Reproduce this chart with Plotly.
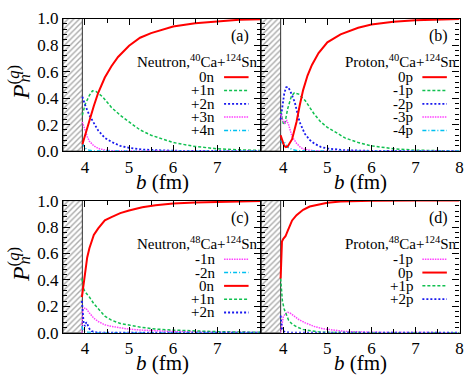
import plotly.graph_objects as go

# ---- data (b in fm, probability) ----
HATCH_B = [3.5, 3.94]   # excluded region (hatched)

# (a) Neutron, 40Ca+124Sn
A_LABELS = ["0n", "+1n", "+2n", "+3n", "+4n"]
A_B = {
    "0n":  [3.94, 4.0, 4.1, 4.2, 4.3, 4.45, 4.6, 4.75, 5.0, 5.25, 5.5, 5.75, 6.0, 6.5, 7.0, 7.5, 8.0],
    "+1n": [3.94, 4.0, 4.1, 4.17, 4.25, 4.4, 4.6, 4.8, 5.0, 5.25, 5.5, 5.75, 6.0, 6.5, 7.0, 7.5, 8.0],
    "+2n": [3.94, 4.0, 4.1, 4.2, 4.3, 4.45, 4.6, 4.8, 5.0, 5.3, 5.6, 6.0, 7.0, 8.0],
    "+3n": [3.94, 3.97, 4.0, 4.05, 4.1, 4.2, 4.3, 4.45, 4.6, 5.0, 6.0, 8.0],
    "+4n": [3.94, 3.97, 4.0, 4.05, 4.1, 4.2, 4.4, 5.0, 8.0],
}
A_P = {
    "0n":  [0.05, 0.12, 0.22, 0.34, 0.44, 0.555, 0.64, 0.71, 0.795, 0.855, 0.89, 0.915, 0.94, 0.965, 0.98, 0.99, 0.995],
    "+1n": [0.27, 0.35, 0.42, 0.455, 0.45, 0.41, 0.33, 0.27, 0.22, 0.16, 0.12, 0.09, 0.065, 0.035, 0.018, 0.01, 0.005],
    "+2n": [0.41, 0.35, 0.27, 0.21, 0.155, 0.10, 0.07, 0.04, 0.025, 0.012, 0.006, 0.003, 0.001, 0.0],
    "+3n": [0.22, 0.19, 0.15, 0.11, 0.075, 0.04, 0.02, 0.008, 0.003, 0.001, 0.0, 0.0],
    "+4n": [0.06, 0.04, 0.025, 0.012, 0.006, 0.002, 0.001, 0.0, 0.0],
}

# (b) Proton, 40Ca+124Sn
B_LABELS = ["0p", "-1p", "-2p", "-3p", "-4p"]
B_B = {
    "0p":  [3.94, 3.98, 4.02, 4.06, 4.1, 4.2, 4.3, 4.37, 4.45, 4.55, 4.65, 4.8, 5.0, 5.3, 5.7, 6.0, 6.5, 7.0, 7.5, 8.0],
    "-1p": [3.94, 3.97, 4.0, 4.03, 4.1, 4.18, 4.25, 4.35, 4.5, 4.7, 4.85, 5.0, 5.2, 5.4, 5.7, 6.0, 6.5, 7.0, 8.0],
    "-2p": [3.94, 3.98, 4.02, 4.06, 4.1, 4.15, 4.2, 4.26, 4.37, 4.49, 4.6, 4.71, 4.85, 5.0, 5.4, 6.0, 8.0],
    "-3p": [3.94, 3.98, 4.03, 4.08, 4.12, 4.2, 4.3, 4.4, 4.5, 4.7, 5.0, 8.0],
    "-4p": [3.94, 3.98, 4.02, 4.06, 4.1, 4.2, 4.3, 4.5, 5.0, 8.0],
}
B_P = {
    "0p":  [0.12, 0.07, 0.04, 0.03, 0.035, 0.09, 0.22, 0.34, 0.46, 0.57, 0.65, 0.74, 0.82, 0.88, 0.93, 0.955, 0.975, 0.986, 0.993, 0.997],
    "-1p": [0.30, 0.25, 0.21, 0.20, 0.32, 0.41, 0.44, 0.43, 0.38, 0.28, 0.22, 0.18, 0.14, 0.10, 0.065, 0.04, 0.018, 0.007, 0.001],
    "-2p": [0.24, 0.33, 0.43, 0.48, 0.485, 0.46, 0.42, 0.37, 0.22, 0.13, 0.085, 0.056, 0.032, 0.02, 0.007, 0.002, 0.0],
    "-3p": [0.28, 0.24, 0.21, 0.23, 0.20, 0.11, 0.06, 0.025, 0.012, 0.003, 0.0, 0.0],
    "-4p": [0.08, 0.06, 0.07, 0.05, 0.03, 0.012, 0.005, 0.001, 0.0, 0.0],
}

# (c) Neutron, 48Ca+124Sn
C_LABELS = ["-1n", "-2n", "0n", "+1n", "+2n"]
C_B = {
    "0n":  [3.93, 3.96, 4.0, 4.05, 4.1, 4.2, 4.3, 4.45, 4.6, 4.8, 5.0, 5.3, 5.6, 6.0, 6.5, 7.0, 7.5, 8.0],
    "+1n": [3.93, 3.96, 4.0, 4.1, 4.2, 4.3, 4.45, 4.6, 4.8, 5.0, 5.3, 5.6, 6.0, 7.0, 8.0],
    "-1n": [3.93, 3.95, 3.98, 4.02, 4.1, 4.2, 4.3, 4.45, 4.6, 4.8, 5.0, 5.3, 5.6, 6.0, 7.0, 8.0],
    "+2n": [3.93, 3.95, 3.97, 4.0, 4.03, 4.06, 4.1, 4.15, 4.25, 4.5, 8.0],
    "-2n": [3.93, 3.96, 4.0, 4.1, 4.3, 8.0],
}
C_P = {
    "0n":  [0.27, 0.35, 0.44, 0.57, 0.64, 0.74, 0.79, 0.85, 0.875, 0.905, 0.925, 0.95, 0.965, 0.977, 0.986, 0.99, 0.994, 0.996],
    "+1n": [0.41, 0.34, 0.31, 0.27, 0.22, 0.18, 0.125, 0.095, 0.07, 0.058, 0.04, 0.028, 0.02, 0.008, 0.003],
    "-1n": [0.0, 0.18, 0.185, 0.185, 0.15, 0.11, 0.085, 0.06, 0.048, 0.035, 0.027, 0.02, 0.014, 0.01, 0.004, 0.002],
    "+2n": [0.24, 0.13, 0.07, 0.05, 0.08, 0.06, 0.03, 0.012, 0.003, 0.0, 0.0],
    "-2n": [0.05, 0.015, 0.005, 0.002, 0.0, 0.0],
}

# (d) Proton, 48Ca+124Sn
D_LABELS = ["-1p", "0p", "+1p", "+2p"]
D_B = {
    "0p":  [3.94, 3.95, 3.97, 4.0, 4.05, 4.1, 4.2, 4.3, 4.45, 4.6, 4.8, 5.0, 5.3, 5.6, 6.0, 7.0, 8.0],
    "+1p": [3.94, 3.96, 3.98, 4.02, 4.07, 4.12, 4.2, 4.3, 4.45, 4.6, 4.8, 5.0, 5.5, 8.0],
    "-1p": [3.94, 3.97, 4.0, 4.05, 4.1, 4.15, 4.25, 4.35, 4.5, 4.7, 4.9, 5.1, 5.4, 6.0, 7.0, 8.0],
    "+2p": [3.94, 3.95, 3.97, 4.0, 4.05, 4.2, 8.0],
}
D_P = {
    "0p":  [0.41, 0.6, 0.69, 0.71, 0.73, 0.77, 0.85, 0.89, 0.93, 0.955, 0.972, 0.984, 0.993, 0.997, 0.999, 1.0, 1.0],
    "+1p": [0.41, 0.3, 0.24, 0.18, 0.13, 0.095, 0.065, 0.045, 0.025, 0.015, 0.006, 0.003, 0.001, 0.0],
    "-1p": [0.0, 0.08, 0.12, 0.145, 0.155, 0.15, 0.125, 0.1, 0.075, 0.048, 0.03, 0.02, 0.01, 0.003, 0.0, 0.0],
    "+2p": [0.13, 0.08, 0.03, 0.012, 0.004, 0.0, 0.0],
}

TITLES = ["Neutron,<sup>40</sup>Ca+<sup>124</sup>Sn", "Proton,<sup>40</sup>Ca+<sup>124</sup>Sn",
          "Neutron,<sup>48</sup>Ca+<sup>124</sup>Sn", "Proton,<sup>48</sup>Ca+<sup>124</sup>Sn"]
TAGS = ["(a)", "(b)", "(c)", "(d)"]

# ---- styles ----
RED, GREEN, BLUE, MAG, CYAN = "#ff0000", "#11c050", "#1a1aee", "#ff40ff", "#00c0f0"
STYLE = {
    "0": dict(color=RED, dash="solid", width=2),
    "+1": dict(color=GREEN, dash="3px,2px", width=1.5),
    "+2": dict(color=BLUE, dash="2px,2px", width=1.8),
    "+3": dict(color=MAG, dash="1.5px,1px", width=1.5),
    "+4": dict(color=CYAN, dash="4px,2px,1px,2px", width=1.5),
}
STYLE_A = {"0n": "0", "+1n": "+1", "+2n": "+2", "+3n": "+3", "+4n": "+4"}
STYLE_B = {"0p": "0", "-1p": "+1", "-2p": "+2", "-3p": "+3", "-4p": "+4"}
STYLE_C = {"-1n": "+3", "-2n": "+4", "0n": "0", "+1n": "+1", "+2n": "+2"}
STYLE_D = {"-1p": "+3", "0p": "0", "+1p": "+1", "+2p": "+2"}

W, H = 469, 386
FONT = "Liberation Serif"

# panel boxes in pixels: (left, right, top, bottom)
BOXES = [(63.5, 263.5, 10, 149.5), (263.5, 463.5, 10, 149.5),
         (63.5, 263.5, 201.5, 340.5), (263.5, 463.5, 201.5, 340.5)]


def px(x):
    return x / W


def py(y):
    return 1 - y / H


fig = go.Figure()
panels = [(A_LABELS, A_B, A_P, STYLE_A), (B_LABELS, B_B, B_P, STYLE_B),
          (C_LABELS, C_B, C_P, STYLE_C), (D_LABELS, D_B, D_P, STYLE_D)]

annotations = []
shapes = []
for i, (labels, bs, ps, smap) in enumerate(panels):
    xa = "x" if i == 0 else "x%d" % (i + 1)
    ya = "y" if i == 0 else "y%d" % (i + 1)
    # hatched excluded region
    fig.add_trace(go.Scatter(x=[HATCH_B[0], HATCH_B[1], HATCH_B[1], HATCH_B[0], HATCH_B[0]],
                             y=[0, 0, 1, 1, 0], fill="toself", mode="lines",
                             line=dict(color="#333", width=1), fillcolor="white",
                             fillpattern=dict(shape="/", fgcolor="#555", bgcolor="white",
                                              size=4, solidity=0.35),
                             showlegend=False, hoverinfo="skip", xaxis=xa, yaxis=ya))
    order = [l for l in labels if smap[l] != "0"] + [l for l in labels if smap[l] == "0"]
    for lab in order:
        st = STYLE[smap[lab]]
        fig.add_trace(go.Scatter(x=bs[lab], y=ps[lab], mode="lines", name=lab,
                                 line=dict(color=st["color"], dash=st["dash"], width=st["width"]),
                                 showlegend=False, xaxis=xa, yaxis=ya))

    left, right, top, bottom = BOXES[i]
    dom_x = [px(left), px(right)]
    dom_y = [py(bottom), py(top)]
    axis_common = dict(showline=True, linecolor="black", linewidth=1.2, mirror="allticks",
                       ticks="inside", tickcolor="black", showgrid=False, zeroline=False,
                       tickfont=dict(family=FONT, size=17, color="black"))
    fig.update_layout(**{
        ("xaxis" if i == 0 else "xaxis%d" % (i + 1)): dict(
            axis_common, domain=dom_x, range=[3.5, 8], anchor=ya,
            tickvals=[4, 5, 6, 7] if i % 2 == 0 else [4, 5, 6, 7, 8], ticklen=6,
            minor=dict(ticks="inside", dtick=0.5, tick0=0, ticklen=4, tickcolor="black")),
        ("yaxis" if i == 0 else "yaxis%d" % (i + 1)): dict(
            axis_common, domain=dom_y, range=[0, 1], anchor=xa,
            tickvals=[0, 0.2, 0.4, 0.6, 0.8, 1.0], tickformat=".1f", ticklen=7,
            showticklabels=(i % 2 == 0),
            minor=dict(ticks="inside", dtick=0.04, tick0=0, ticklen=4, tickcolor="black")),
    })

    # panel tag and title
    annotations.append(dict(x=px(right - 21.5), y=py(top + 18), xref="paper", yref="paper",
                            text=TAGS[i], showarrow=False, xanchor="center", yanchor="middle",
                            font=dict(family=FONT, size=16, color="black")))
    annotations.append(dict(x=px(right - 1.5), y=py(top + 45), xref="paper", yref="paper",
                            text=TITLES[i], showarrow=False, xanchor="right", yanchor="middle",
                            font=dict(family=FONT, size=15, color="black")))
    # legend block (text on the left, sample on the right)
    for k, lab in enumerate(labels):
        yy = top + 61.7 + 14 * k
        st = STYLE[smap[lab]]
        annotations.append(dict(x=px(right - 45), y=py(yy), xref="paper", yref="paper",
                                text=lab, showarrow=False, xanchor="right", yanchor="middle",
                                font=dict(family=FONT, size=15, color="black")))
        shapes.append(dict(type="line", xref="paper", yref="paper",
                           x0=px(right - 37.5), x1=px(right - 12.8), y0=py(yy), y1=py(yy),
                           line=dict(color=st["color"], dash=st["dash"], width=st["width"])))
    # x title
    annotations.append(dict(x=px((left + right) / 2), y=py(bottom + 32), xref="paper", yref="paper",
                            text="<i>b</i> (fm)", showarrow=False, xanchor="center", yanchor="middle",
                            font=dict(family=FONT, size=21, color="black")))
    # y title (left panels only)
    if i % 2 == 0:
        annotations.append(dict(x=px(19), y=py(top + 67), xref="paper", yref="paper",
                                text="<i>P</i><sup>(<i>q</i>)</sup>", showarrow=False, textangle=-90,
                                xanchor="center", yanchor="middle",
                                font=dict(family=FONT, size=24, color="black")))
        annotations.append(dict(x=px(25), y=py(top + 63), xref="paper", yref="paper",
                                text="<i>n</i>", showarrow=False, textangle=-90,
                                xanchor="center", yanchor="middle",
                                font=dict(family=FONT, size=16, color="black")))

fig.update_layout(width=W, height=H, margin=dict(l=0, r=0, t=0, b=0),
                  paper_bgcolor="white", plot_bgcolor="white", showlegend=False,
                  annotations=annotations, shapes=shapes)

fig.write_html("out.html", config={"displayModeBar": False},
               post_script="document.body.style.margin='0';")
